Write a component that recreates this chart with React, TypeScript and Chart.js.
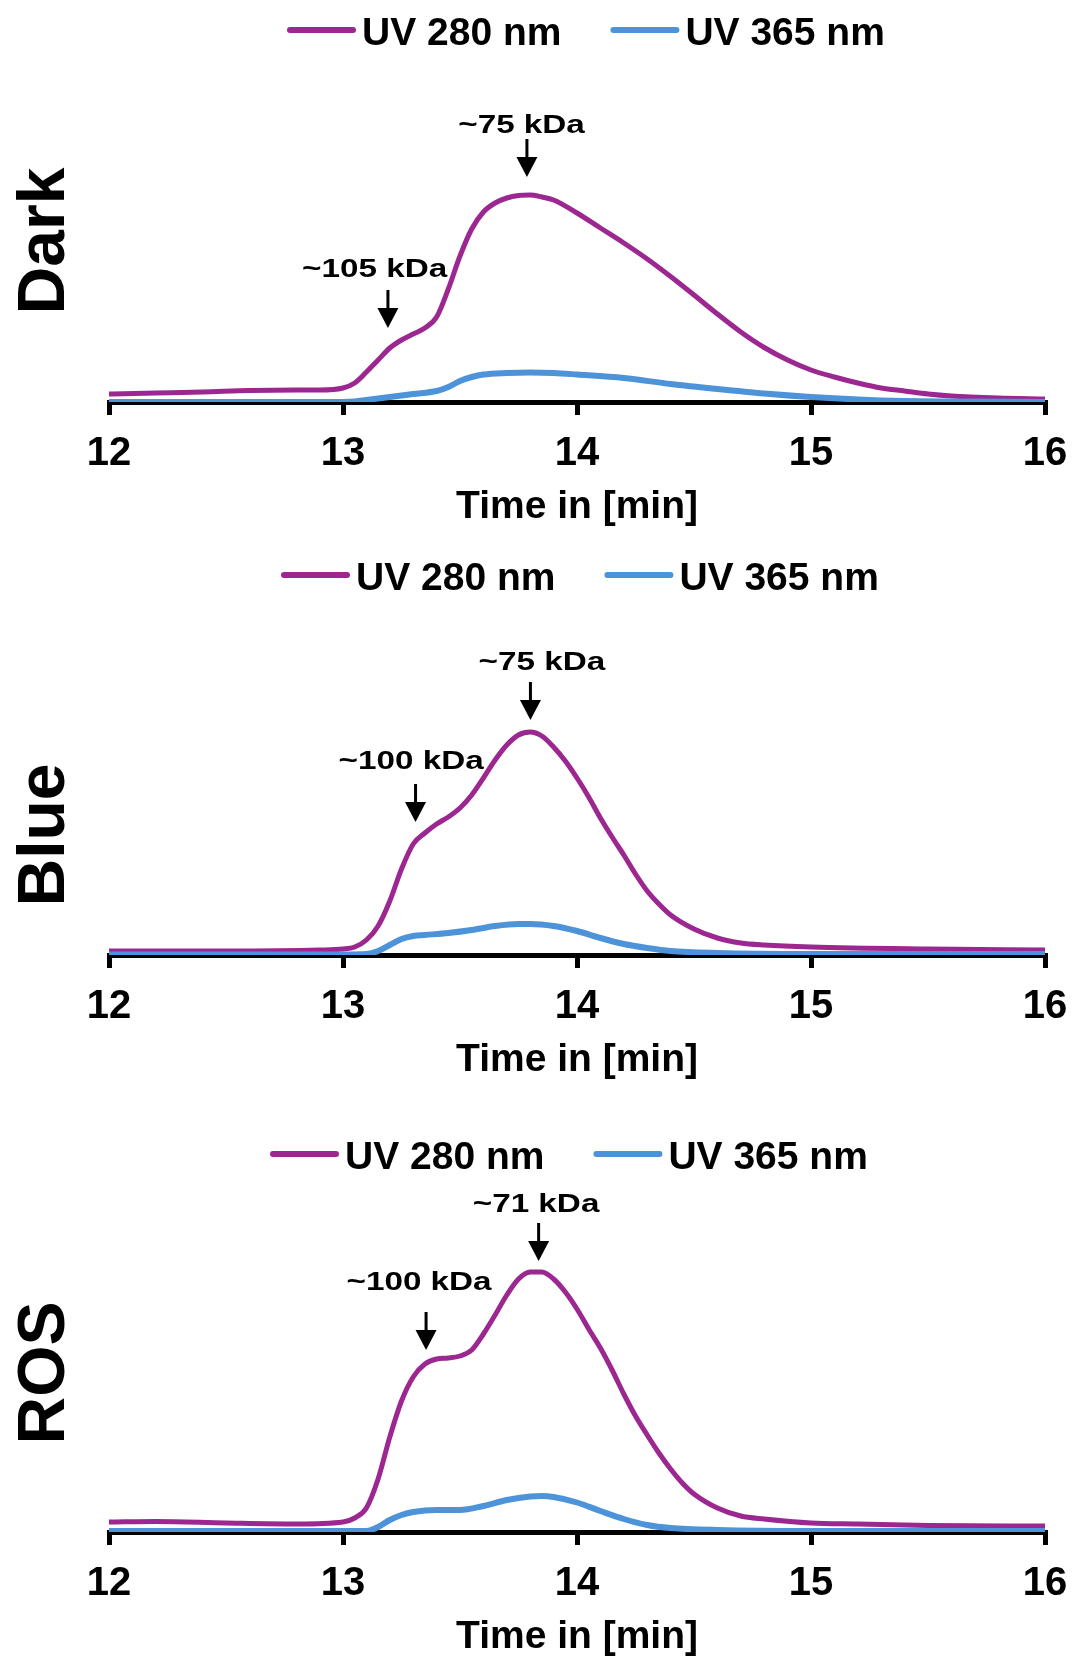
import React, { useEffect, useRef } from "react";
import { Chart, registerables } from "chart.js";

Chart.register(...registerables);

const FONT = '"Liberation Sans", Arial, Helvetica, sans-serif';
const PURPLE = "#9C2790";
const BLUE = "#4C93DA";

// ---- shared labels ----
const SERIES_NAMES = ["UV 280 nm", "UV 365 nm"];
const X_TITLE = "Time in [min]";
const X_MIN = 12;
const X_MAX = 16;
const PANEL_TITLES = ["Dark", "Blue", "ROS"];

// ---- Dark ----
const darkTime280 = [12.0, 12.2, 12.4, 12.6, 12.8, 12.9, 13.0, 13.05, 13.1, 13.15, 13.2, 13.25, 13.3, 13.35, 13.4, 13.45, 13.5, 13.55, 13.6, 13.65, 13.7, 13.75, 13.8, 13.85, 13.9, 14.0, 14.1, 14.2, 14.3, 14.4, 14.5, 14.6, 14.7, 14.8, 14.9, 15.0, 15.1, 15.2, 15.3, 15.4, 15.5, 15.6, 15.8, 16.0];
const darkUV280 = [8, 9, 10, 11.5, 12, 12, 14, 19, 30, 42, 54, 62, 68, 74, 85, 113, 146, 173, 190, 199, 204, 206.5, 207, 205, 202, 189, 174, 159, 143, 125.5, 107, 88, 70, 54.5, 42, 32, 25, 19, 14, 11, 8, 6, 4, 3];
const darkTime365 = [12.0, 12.5, 13.0, 13.05, 13.1, 13.2, 13.3, 13.4, 13.45, 13.5, 13.55, 13.6, 13.7, 13.8, 13.9, 14.0, 14.2, 14.4, 14.6, 14.8, 15.0, 15.2, 15.4, 15.6, 16.0];
const darkUV365 = [0, 0, 0, 0.5, 2, 5, 8, 11, 15, 21, 25, 27.5, 29, 29.5, 29, 27.5, 24, 18, 13, 8.5, 5, 2.5, 1, 0.5, 0];

// ---- Blue ----
const blueTime280 = [12.0, 12.5, 12.9, 13.0, 13.05, 13.1, 13.15, 13.2, 13.25, 13.3, 13.35, 13.4, 13.45, 13.5, 13.55, 13.6, 13.65, 13.7, 13.75, 13.8, 13.85, 13.9, 13.95, 14.0, 14.05, 14.1, 14.15, 14.2, 14.25, 14.3, 14.35, 14.4, 14.5, 14.6, 14.7, 14.8, 15.0, 15.5, 16.0];
const blueUV280 = [4, 4, 5, 6, 8, 15, 29, 54, 86, 111, 122, 131, 138, 147, 160, 177, 195, 210, 220, 223, 219, 208, 194, 177, 158, 137, 118, 100, 81, 64, 51, 40, 26, 17, 12, 10, 8, 6, 5];
const blueTime365 = [12.0, 13.0, 13.1, 13.15, 13.2, 13.25, 13.3, 13.35, 13.45, 13.55, 13.65, 13.75, 13.8, 13.9, 14.0, 14.1, 14.2, 14.3, 14.4, 14.6, 15.0, 16.0];
const blueUV365 = [0.5, 0.5, 1, 4, 10, 16, 19, 20, 22, 25, 29, 31, 31, 29, 24, 17, 11, 7, 4, 2, 1, 1];

// ---- ROS ----
const rosTime280 = [12.0, 12.2, 12.5, 12.8, 13.0, 13.05, 13.1, 13.15, 13.2, 13.25, 13.3, 13.35, 13.4, 13.45, 13.5, 13.55, 13.6, 13.65, 13.7, 13.75, 13.8, 13.85, 13.9, 13.95, 14.0, 14.05, 14.1, 14.15, 14.2, 14.25, 14.3, 14.35, 14.4, 14.45, 14.5, 14.6, 14.7, 14.8, 15.0, 15.2, 15.5, 16.0];
const rosUV280 = [10, 10.5, 9, 8, 10, 14, 24, 53, 95, 131, 155, 168, 173, 174, 176, 182, 198, 217, 237, 253, 260, 260, 253, 240, 223, 203, 184, 162, 138, 116, 97, 79, 63, 49, 38, 24, 16, 13, 9, 8, 6.5, 6];
const rosTime365 = [12.0, 13.0, 13.1, 13.15, 13.2, 13.25, 13.3, 13.4, 13.5, 13.6, 13.7, 13.8, 13.85, 13.9, 14.0, 14.1, 14.2, 14.3, 14.4, 14.6, 15.0, 16.0];
const rosUV365 = [1, 1, 1, 5, 12, 17, 20, 22, 22, 26, 32, 35.5, 36, 35, 29.5, 21, 13, 7, 4, 2, 1, 1];

// ---- annotations (label, arrow time, arrow tip level, label centre time, label baseline level) ----
const darkAnnLabels = ["~75 kDa", "~105 kDa"];
const darkAnnTime = [13.786, 13.192];
const darkAnnTip = [225, 74];
const darkAnnLabelTime = [13.763, 13.135];
const darkAnnLabelLevel = [269, 125];

const blueAnnLabels = ["~75 kDa", "~100 kDa"];
const blueAnnTime = [13.801, 13.31];
const blueAnnTip = [235, 133];
const blueAnnLabelTime = [13.85, 13.291];
const blueAnnLabelLevel = [285, 186];

const rosAnnLabels = ["~71 kDa", "~100 kDa"];
const rosAnnTime = [13.836, 13.355];
const rosAnnTip = [271, 182];
const rosAnnLabelTime = [13.825, 13.325];
const rosAnnLabelLevel = [320, 242];

type PanelCfg = {
  title: string;
  t280: number[];
  v280: number[];
  t365: number[];
  v365: number[];
  annLabels: string[];
  annTime: number[];
  annTip: number[];
  annLabelTime: number[];
  annLabelLevel: number[];
  top: number;
  height: number;
  padTop: number;
  axisY: number;
  legendX: number;
  legendY: number;
  titleY: number;
};

const X_AXIS_H = 129;

const panels: PanelCfg[] = [
  {
    title: PANEL_TITLES[0], t280: darkTime280, v280: darkUV280, t365: darkTime365, v365: darkUV365,
    annLabels: darkAnnLabels, annTime: darkAnnTime, annTip: darkAnnTip, annLabelTime: darkAnnLabelTime, annLabelLevel: darkAnnLabelLevel,
    top: 0, height: 540, padTop: 82, axisY: 402, legendX: 287, legendY: 30, titleY: 241,
  },
  {
    title: PANEL_TITLES[1], t280: blueTime280, v280: blueUV280, t365: blueTime365, v365: blueUV365,
    annLabels: blueAnnLabels, annTime: blueAnnTime, annTip: blueAnnTip, annLabelTime: blueAnnLabelTime, annLabelLevel: blueAnnLabelLevel,
    top: 540, height: 560, padTop: 80, axisY: 415, legendX: 281, legendY: 35, titleY: 295,
  },
  {
    title: PANEL_TITLES[2], t280: rosTime280, v280: rosUV280, t365: rosTime365, v365: rosUV365,
    annLabels: rosAnnLabels, annTime: rosAnnTime, annTip: rosAnnTip, annLabelTime: rosAnnLabelTime, annLabelLevel: rosAnnLabelLevel,
    top: 1100, height: 570, padTop: 95, axisY: 432, legendX: 270, legendY: 54, titleY: 273,
  },
];

const zip = (xs: number[], ys: number[]) => xs.map((x, i) => ({ x, y: ys[i] }));

const overlayPlugin = {
  id: "overlay",
  afterDraw(chart: any, _args: any, opts: any) {
    const p: PanelCfg = opts.panel;
    if (!p) return;
    const ctx: CanvasRenderingContext2D = chart.ctx;
    const xs = chart.scales.x;
    const ys = chart.scales.y;
    ctx.save();

    // legend
    ctx.font = `bold 39px ${FONT}`;
    ctx.textAlign = "left";
    ctx.textBaseline = "alphabetic";
    let lx = p.legendX;
    chart.data.datasets.forEach((ds: any) => {
      ctx.strokeStyle = ds.borderColor;
      ctx.lineWidth = 6;
      ctx.lineCap = "round";
      ctx.beginPath();
      ctx.moveTo(lx + 3, p.legendY);
      ctx.lineTo(lx + 66, p.legendY);
      ctx.stroke();
      ctx.fillStyle = "#000";
      ctx.fillText(ds.label, lx + 75, p.legendY + 15);
      lx += 75 + ctx.measureText(ds.label).width + 49;
    });

    // panel title (rotated)
    ctx.save();
    ctx.translate(64, p.titleY);
    ctx.rotate(-Math.PI / 2);
    ctx.font = `bold 66px ${FONT}`;
    ctx.textAlign = "center";
    ctx.textBaseline = "alphabetic";
    ctx.fillStyle = "#000";
    ctx.fillText(p.title, 0, 0);
    ctx.restore();

    // annotations
    p.annLabels.forEach((label, i) => {
      const ax = xs.getPixelForValue(p.annTime[i]);
      const tip = ys.getPixelForValue(p.annTip[i]);
      ctx.strokeStyle = "#000";
      ctx.fillStyle = "#000";
      ctx.lineWidth = 3;
      ctx.lineCap = "butt";
      ctx.beginPath();
      ctx.moveTo(ax, tip - 38);
      ctx.lineTo(ax, tip - 18);
      ctx.stroke();
      ctx.beginPath();
      ctx.moveTo(ax - 10.5, tip - 20);
      ctx.lineTo(ax + 10.5, tip - 20);
      ctx.lineTo(ax, tip);
      ctx.closePath();
      ctx.fill();

      const lxp = xs.getPixelForValue(p.annLabelTime[i]);
      const lyp = ys.getPixelForValue(p.annLabelLevel[i]);
      ctx.save();
      ctx.translate(lxp, lyp);
      ctx.scale(1.33, 1);
      ctx.font = `bold 25px ${FONT}`;
      ctx.textAlign = "center";
      ctx.textBaseline = "alphabetic";
      ctx.fillText(label, 0, 0);
      ctx.restore();
    });

    ctx.restore();
  },
};

function Panel({ cfg }: { cfg: PanelCfg }) {
  const ref = useRef<HTMLCanvasElement>(null);
  useEffect(() => {
    const yMax = cfg.axisY - cfg.padTop;
    const padBottom = cfg.height - cfg.axisY - X_AXIS_H;
    const chart = new Chart(ref.current as HTMLCanvasElement, {
      type: "line",
      data: {
        datasets: [
          {
            label: SERIES_NAMES[0],
            data: zip(cfg.t280, cfg.v280),
            borderColor: PURPLE,
            backgroundColor: PURPLE,
            borderWidth: 5,
            pointRadius: 0,
            cubicInterpolationMode: "monotone",
            fill: false,
            order: 1,
          },
          {
            label: SERIES_NAMES[1],
            data: zip(cfg.t365, cfg.v365),
            borderColor: BLUE,
            backgroundColor: BLUE,
            borderWidth: 6,
            pointRadius: 0,
            cubicInterpolationMode: "monotone",
            fill: false,
            order: 0,
          },
        ],
      },
      options: {
        responsive: false,
        animation: false,
        devicePixelRatio: 1,
        layout: { padding: { left: 109, right: 28, top: cfg.padTop, bottom: padBottom } },
        plugins: {
          legend: { display: false },
          tooltip: { enabled: false },
          overlay: { panel: cfg },
        } as any,
        scales: {
          x: {
            type: "linear",
            min: X_MIN,
            max: X_MAX,
            afterFit: (s: any) => {
              s.height = X_AXIS_H;
              s.paddingLeft = 0;
              s.paddingRight = 0;
            },
            grid: {
              display: true,
              drawOnChartArea: false,
              drawTicks: true,
              tickLength: 13,
              tickWidth: 5,
              tickColor: "#000",
              color: "#000",
              lineWidth: 5,
            },
            border: { display: true, color: "#000", width: 5 },
            ticks: {
              stepSize: 1,
              padding: 15,
              color: "#000",
              font: { family: FONT, size: 40, weight: "bold" },
              maxRotation: 0,
              autoSkip: false,
            },
            title: {
              display: true,
              text: X_TITLE,
              color: "#000",
              padding: 0,
              font: { family: FONT, size: 39, weight: "bold" },
            },
          },
          y: { display: false, min: 0, max: yMax },
        },
      } as any,
      plugins: [overlayPlugin],
    });
    return () => chart.destroy();
  }, [cfg]);
  return (
    <canvas
      ref={ref}
      width={1073}
      height={cfg.height}
      style={{ position: "absolute", left: 0, top: cfg.top, width: 1073, height: cfg.height, display: "block" }}
    />
  );
}

export default function App() {
  return (
    <div style={{ position: "absolute", left: 0, top: 0, width: 1073, height: 1656, overflow: "hidden", background: "#fff" }}>
      {panels.map((p) => (
        <Panel key={p.title} cfg={p} />
      ))}
    </div>
  );
}
